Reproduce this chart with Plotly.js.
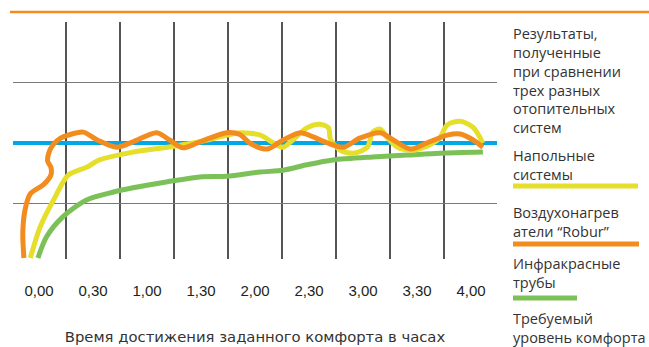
<!DOCTYPE html>
<html>
<head>
<meta charset="utf-8">
<script src="https://cdn.plot.ly/plotly-3.0.1.min.js"></script>
<style>
html,body{margin:0;padding:0;background:#fff;}
#chart{width:649px;height:347px;}
</style>
</head>
<body>
<div id="chart"></div>
<script>
// X: hours since start, Y: temperature-like comfort level (required level = 20)
const tickVals = [0, 0.5, 1, 1.5, 2, 2.5, 3, 3.5, 4];
const tickLabels = ["0,00", "0,30", "1,00", "1,30", "2,00", "2,30", "3,00", "3,30", "4,00"];
const gridHours = [0.25, 0.75, 1.25, 1.75, 2.25, 2.75, 3.25, 3.75];

const requiredLevel = 20;

// Воздухонагреватели Robur (orange)
const roburX = [-0.14, -0.15, -0.13, -0.08, 0.04, 0.11, 0.11, 0.08, 0.09, 0.13, 0.20, 0.27, 0.41, 0.54, 0.72, 0.87, 1.09, 1.21, 1.33, 1.49, 1.74, 1.86, 1.95, 2.11, 2.26, 2.42, 2.54, 2.67, 2.82, 2.97, 3.16, 3.28, 3.44, 3.59, 3.78, 3.90, 4.02, 4.11];
const roburY = [1.0, 5.1, 8.9, 11.6, 13.1, 14.7, 16.0, 17.0, 18.3, 19.7, 20.8, 21.3, 21.8, 20.5, 19.3, 20.2, 21.7, 20.5, 19.2, 20.2, 21.7, 21.4, 20.0, 19.0, 20.5, 21.7, 21.0, 20.0, 19.3, 20.8, 21.7, 20.5, 19.0, 20.0, 21.3, 21.5, 20.5, 19.3];

// Напольные системы (yellow)
const floorX = [-0.08, 0.01, 0.15, 0.27, 0.44, 0.56, 0.87, 1.19, 1.49, 1.74, 1.86, 2.05, 2.17, 2.26, 2.35, 2.48, 2.60, 2.68, 2.70, 2.79, 2.91, 3.04, 3.09, 3.16, 3.22, 3.32, 3.46, 3.62, 3.71, 3.78, 3.90, 4.02, 4.11];
const floorY = [1.0, 6.1, 11.1, 14.7, 16.0, 17.2, 18.5, 19.3, 20.2, 21.3, 21.7, 21.3, 20.0, 19.3, 20.5, 22.5, 23.1, 22.5, 20.5, 18.8, 18.3, 19.3, 21.8, 22.3, 21.0, 19.3, 18.8, 19.7, 20.8, 23.0, 23.6, 22.6, 20.0];

// Инфракрасные трубы (green)
const irX = [-0.01, 0.07, 0.22, 0.44, 0.69, 0.87, 1.19, 1.49, 1.74, 2.05, 2.26, 2.48, 2.72, 3.09, 3.41, 3.71, 4.11];
const irY = [1.0, 4.5, 7.8, 10.6, 11.9, 12.6, 13.6, 14.4, 14.5, 15.2, 15.5, 16.4, 17.2, 17.7, 18.0, 18.3, 18.5];

const xRange = [-0.2407, 4.2407];
const yRange = [0.83, 40];

const COL_ORANGE = "#f28c1f";
const COL_YELLOW = "#e5de2b";
const COL_GREEN = "#7cc157";
const COL_BLUE = "#00a9e6";
const TEXT = "#333333";

const legendTexts = [
  "Результаты,<br>полученные<br>при сравнении<br>трех разных<br>отопительных<br>систем",
  "Напольные<br>системы",
  "Воздухонагрев<br>атели “Robur”",
  "Инфракрасные<br>трубы",
  "Требуемый<br>уровень комфорта"
];

// pixel helpers for layout decorations (plot area 13..497 x 22..259)
const PX = p => (p - 13) / 484;
const PY = p => (259 - p) / 237;

const traces = [
  {x: xRange, y: [requiredLevel, requiredLevel], mode: "lines", line: {color: COL_BLUE, width: 4}, hoverinfo: "skip"},
  {x: irX, y: irY, mode: "lines", line: {color: COL_GREEN, width: 5, shape: "spline", smoothing: 0.8}},
  {x: floorX, y: floorY, mode: "lines", line: {color: COL_YELLOW, width: 5, shape: "spline", smoothing: 0.8}},
  {x: roburX, y: roburY, mode: "lines", line: {color: COL_ORANGE, width: 5, shape: "spline", smoothing: 0.8}}
];

const legendCenters = [80, 164.5, 222, 273, 328];
const annotations = legendTexts.map((t, i) => ({
  xref: "paper", yref: "paper", x: PX(511), y: PY(legendCenters[i]),
  xanchor: "left", yanchor: "middle", align: "left", showarrow: false,
  text: t, font: {family: "Open Sans, Noto Sans, sans-serif", size: 14.5, color: TEXT}
}));

const swatch = (y, x1, color) => ({
  type: "line", xref: "paper", yref: "paper", x0: PX(513), x1: PX(x1), y0: PY(y), y1: PY(y),
  line: {color: color, width: 5}
});

const layout = {
  width: 649, height: 347,
  margin: {l: 13, r: 152, t: 22, b: 88},
  paper_bgcolor: "#ffffff", plot_bgcolor: "#ffffff",
  showlegend: false,
  xaxis: {
    range: xRange, showgrid: false, zeroline: false, showline: false,
    tickmode: "array", tickvals: tickVals, ticktext: tickLabels, ticks: "",
    ticklabelstandoff: 21,
    tickfont: {family: "Liberation Sans, Arial, sans-serif", size: 15, color: "#231f20"},
    minor: {tickmode: "array", tickvals: gridHours, showgrid: true, gridcolor: "#555555", gridwidth: 1.2, ticks: ""},
    title: {text: "Время достижения заданного комфорта в часах", standoff: 33,
            font: {family: "DejaVu Sans, Open Sans, sans-serif", size: 14.8, color: TEXT}},
    fixedrange: true
  },
  yaxis: {
    range: yRange, showticklabels: false, ticks: "", zeroline: false, showline: false,
    tickmode: "array", tickvals: [10, 30], showgrid: true, gridcolor: "#7a7a7a", gridwidth: 1.4,
    fixedrange: true
  },
  shapes: [
    {type: "line", xref: "paper", yref: "paper", x0: PX(10), x1: PX(649), y0: PY(12), y1: PY(12), line: {color: COL_ORANGE, width: 2.5}},
    swatch(186, 638, COL_YELLOW),
    swatch(244, 639, COL_ORANGE),
    swatch(298, 577, COL_GREEN)
  ],
  annotations: annotations
};

Plotly.newPlot("chart", traces, layout, {displayModeBar: false, staticPlot: true});
</script>
</body>
</html>
